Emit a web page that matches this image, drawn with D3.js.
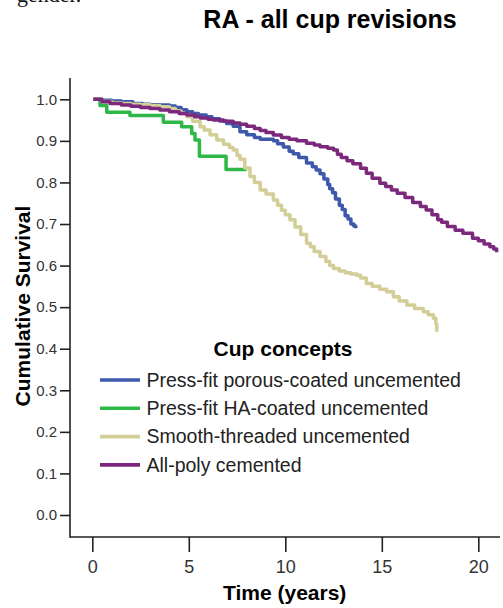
<!DOCTYPE html>
<html>
<head>
<meta charset="utf-8">
<script src="https://cdn.jsdelivr.net/npm/d3@7"></script>
<style>
  html, body { margin: 0; padding: 0; background: #fff; }
  svg { display: block; font-family: "Liberation Sans", Arial, sans-serif; }
</style>
</head>
<body>
<svg id="chart" width="503" height="608"></svg>
<script>
// Kaplan-Meier survival, RA patients, all cup revisions, by cup concept
const seriesNames = [
  "Press-fit porous-coated uncemented",
  "Press-fit HA-coated uncemented",
  "Smooth-threaded uncemented",
  "All-poly cemented"
];
const seriesColors = ["#3E58AC", "#2EB848", "#D3CE97", "#7C287D"];

// Event times (years) and cumulative survival for each cup concept
const porousTimes = [0.05, 0.5, 1.0, 1.5, 2.1, 2.6, 3.0, 3.5, 4.0, 4.3, 4.6, 4.9, 5.2, 5.5, 5.9, 6.2, 6.6, 6.96, 7.3, 7.65, 8.0, 8.4, 8.7, 9.38, 9.6, 9.9, 10.2, 10.41, 10.7, 11.1, 11.4, 11.6, 11.8, 12.0, 12.2, 12.3, 12.45, 12.6, 12.8, 12.95, 13.1, 13.25, 13.4, 13.55, 13.65];
const porousSurv  = [1.0, 0.998, 0.996, 0.994, 0.99, 0.988, 0.987, 0.986, 0.984, 0.98, 0.975, 0.97, 0.966, 0.962, 0.958, 0.953, 0.948, 0.942, 0.935, 0.922, 0.915, 0.908, 0.904, 0.9, 0.893, 0.885, 0.875, 0.869, 0.86, 0.847, 0.838, 0.83, 0.821, 0.808, 0.795, 0.785, 0.775, 0.76, 0.745, 0.735, 0.72, 0.712, 0.70, 0.695, 0.69];

const haTimes = [0.14, 0.4, 0.75, 1.95, 3.68, 4.63, 5.15, 5.32, 5.55, 6.93, 8.0];
const haSurv  = [1.0, 0.985, 0.969, 0.961, 0.945, 0.934, 0.918, 0.902, 0.863, 0.831, 0.831];

const smoothTimes = [0.05, 0.5, 1.0, 1.5, 2.0, 2.5, 3.0, 3.5, 4.0, 4.3, 4.6, 4.9, 5.2, 5.58, 5.8, 6.1, 6.45, 6.8, 7.1, 7.3, 7.5, 7.65, 7.9, 8.17, 8.4, 8.7, 9.0, 9.38, 9.6, 9.8, 10.0, 10.24, 10.5, 10.8, 11.1, 11.3, 11.5, 11.8, 12.1, 12.3, 12.5, 12.8, 13.1, 13.4, 13.7, 13.9, 14.2, 14.5, 14.9, 15.25, 15.6, 15.9, 16.3, 16.7, 17.15, 17.4, 17.67, 17.8, 17.85];
const smoothSurv  = [1.0, 0.995, 0.992, 0.99, 0.988, 0.987, 0.985, 0.982, 0.978, 0.972, 0.965, 0.958, 0.947, 0.934, 0.926, 0.915, 0.902, 0.892, 0.884, 0.878, 0.865, 0.856, 0.835, 0.814, 0.8, 0.782, 0.772, 0.758, 0.745, 0.733, 0.722, 0.71, 0.693, 0.675, 0.654, 0.645, 0.634, 0.622, 0.61, 0.6, 0.593, 0.587, 0.583, 0.58, 0.577, 0.57, 0.557, 0.55, 0.543, 0.537, 0.525, 0.515, 0.505, 0.497, 0.489, 0.482, 0.473, 0.46, 0.441];

const polyTimes = [0.05, 0.5, 0.92, 1.5, 2.0, 2.5, 2.99, 3.5, 4.0, 4.5, 4.9, 5.3, 5.6, 6.0, 6.27, 6.8, 7.3, 7.65, 8.0, 8.4, 8.7, 9.0, 9.38, 9.8, 10.2, 10.6, 11.1, 11.5, 11.8, 12.2, 12.5, 12.7, 12.9, 13.2, 13.5, 13.9, 14.2, 14.5, 14.9, 15.2, 15.5, 15.8, 16.2, 16.6, 17.0, 17.3, 17.6, 17.9, 18.1, 18.4, 18.8, 19.2, 19.7, 20.0, 20.3, 20.6, 20.8, 20.95];
const polySurv  = [1.0, 0.994, 0.99, 0.986, 0.983, 0.98, 0.978, 0.974, 0.97, 0.966, 0.962, 0.958, 0.955, 0.952, 0.95, 0.947, 0.943, 0.94, 0.935, 0.93, 0.925, 0.92, 0.914, 0.908, 0.904, 0.9, 0.894, 0.89, 0.886, 0.882, 0.878, 0.868, 0.86, 0.852, 0.845, 0.834, 0.822, 0.81, 0.798, 0.79, 0.782, 0.774, 0.764, 0.752, 0.742, 0.734, 0.722, 0.71, 0.704, 0.694, 0.685, 0.678, 0.666, 0.66, 0.652, 0.645, 0.64, 0.632];

const xTickValues = [0, 5, 10, 15, 20];
const yTickValues = [0.0, 0.1, 0.2, 0.3, 0.4, 0.5, 0.6, 0.7, 0.8, 0.9, 1.0];

const series = [
  { name: seriesNames[0], color: seriesColors[0], t: porousTimes, s: porousSurv },
  { name: seriesNames[1], color: seriesColors[1], t: haTimes, s: haSurv },
  { name: seriesNames[2], color: seriesColors[2], t: smoothTimes, s: smoothSurv },
  { name: seriesNames[3], color: seriesColors[3], t: polyTimes, s: polySurv }
];

const svg = d3.select("#chart");

const x = d3.scaleLinear().domain([0, 20]).range([92.3, 478.3]);
const y = d3.scaleLinear().domain([0, 1]).range([515, 99.3]);

const axisLeftX = 70, axisBottomY = 537;

// Last line of the preceding paragraph on the page
svg.append("text")
  .attr("x", 17).attr("y", 1.5)
  .attr("font-family", "'Liberation Serif', 'Times New Roman', serif")
  .attr("font-size", 22).attr("fill", "#111")
  .text("gender.");

// Title
svg.append("text")
  .attr("x", 330).attr("y", 27.5)
  .attr("text-anchor", "middle")
  .attr("font-weight", "bold").attr("font-size", 25).attr("fill", "#000")
  .text("RA - all cup revisions");

// Axis frame lines
svg.append("line")
  .attr("x1", axisLeftX).attr("x2", axisLeftX)
  .attr("y1", 78).attr("y2", axisBottomY + 0.75)
  .attr("stroke", "#222").attr("stroke-width", 1.6);
svg.append("line")
  .attr("x1", axisLeftX).attr("x2", 500)
  .attr("y1", axisBottomY).attr("y2", axisBottomY)
  .attr("stroke", "#222").attr("stroke-width", 1.6);

// Y axis
const yAxis = svg.append("g")
  .attr("transform", `translate(${axisLeftX},0)`)
  .call(d3.axisLeft(y).tickValues(yTickValues).tickFormat(d3.format(".1f")).tickSize(10).tickPadding(3));
yAxis.select(".domain").remove();
yAxis.selectAll(".tick line").attr("stroke", "#222").attr("stroke-width", 1.6);
yAxis.selectAll(".tick text")
  .attr("font-family", "'Liberation Sans', Arial, sans-serif")
  .attr("font-size", 15).attr("fill", "#333");

// X axis
const xAxis = svg.append("g")
  .attr("transform", `translate(0,${axisBottomY})`)
  .call(d3.axisBottom(x).tickValues(xTickValues).tickFormat(d3.format("d")).tickSize(15).tickPadding(8));
xAxis.select(".domain").remove();
xAxis.selectAll(".tick line").attr("stroke", "#222").attr("stroke-width", 1.6);
xAxis.selectAll(".tick text")
  .attr("font-family", "'Liberation Sans', Arial, sans-serif")
  .attr("font-size", 18).attr("fill", "#333");

// Axis titles
svg.append("text")
  .attr("x", 284.7).attr("y", 599.5)
  .attr("text-anchor", "middle")
  .attr("font-weight", "bold").attr("font-size", 21).attr("fill", "#000")
  .text("Time (years)");
svg.append("text")
  .attr("transform", "translate(30,306) rotate(-90)")
  .attr("text-anchor", "middle")
  .attr("font-weight", "bold").attr("font-size", 21).attr("fill", "#000")
  .text("Cumulative Survival");

// Survival curves (step functions)
const line = d3.line()
  .x(d => x(d[0]))
  .y(d => y(d[1]))
  .curve(d3.curveStepAfter);

svg.append("g").selectAll("path")
  .data(series)
  .join("path")
  .attr("d", d => line(d.t.map((t, i) => [t, d.s[i]])))
  .attr("fill", "none")
  .attr("stroke", d => d.color)
  .attr("stroke-width", 3.5)
  .attr("stroke-linejoin", "round");

// Legend
const legend = svg.append("g");
legend.append("text")
  .attr("x", 283).attr("y", 356)
  .attr("text-anchor", "middle")
  .attr("font-weight", "bold").attr("font-size", 21).attr("fill", "#000")
  .text("Cup concepts");

const items = legend.selectAll("g.item")
  .data(series)
  .join("g")
  .attr("class", "item")
  .attr("transform", (d, i) => `translate(0,${380 + i * 28.3})`);
items.append("line")
  .attr("x1", 100).attr("x2", 140)
  .attr("stroke", d => d.color).attr("stroke-width", 3.6);
items.append("text")
  .attr("x", 146.5).attr("y", 0).attr("dy", "0.35em")
  .attr("font-size", 19.5).attr("fill", "#222")
  .text(d => d.name);
</script>
</body>
</html>
